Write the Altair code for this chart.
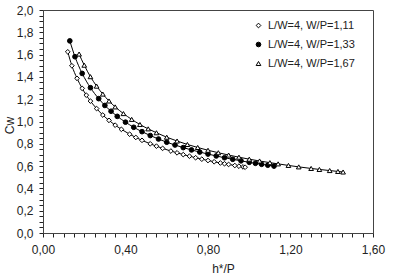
import altair as alt
import pandas as pd

series_names = ["L/W=4, W/P=1,11", "L/W=4, W/P=1,33", "L/W=4, W/P=1,67"]

x1 = [0.12, 0.14, 0.165, 0.19, 0.21, 0.23, 0.26, 0.29, 0.32, 0.35, 0.38, 0.42, 0.45, 0.48,
      0.52, 0.55, 0.58, 0.62, 0.65, 0.68, 0.71, 0.74, 0.77, 0.80, 0.83, 0.86, 0.88, 0.90,
      0.93, 0.95, 0.97, 0.98]
y1 = [1.625, 1.50, 1.387, 1.297, 1.236, 1.183, 1.116, 1.058, 1.010, 0.967, 0.930, 0.886, 0.857,
      0.831, 0.800, 0.779, 0.759, 0.735, 0.719, 0.703, 0.689, 0.675, 0.662, 0.650, 0.639,
      0.628, 0.621, 0.615, 0.605, 0.599, 0.593, 0.590]

x2 = [0.13, 0.155, 0.19, 0.23, 0.27, 0.30, 0.33, 0.36, 0.40, 0.44, 0.48, 0.52, 0.56, 0.60,
      0.64, 0.68, 0.72, 0.76, 0.80, 0.84, 0.88, 0.92, 0.96, 1.00, 1.03, 1.06, 1.09, 1.12]
y2 = [1.723, 1.581, 1.431, 1.303, 1.205, 1.144, 1.092, 1.046, 0.994, 0.948, 0.909, 0.874,
      0.843, 0.814, 0.789, 0.766, 0.745, 0.726, 0.708, 0.691, 0.675, 0.661, 0.647, 0.634,
      0.625, 0.616, 0.608, 0.600]

x3 = [0.175, 0.20, 0.23, 0.26, 0.29, 0.32, 0.35, 0.39, 0.43, 0.47, 0.51, 0.55, 0.60, 0.65,
      0.70, 0.75, 0.80, 0.85, 0.90, 0.95, 1.00, 1.05, 1.10, 1.14, 1.19, 1.24, 1.30, 1.34,
      1.39, 1.43, 1.455]
y3 = [1.605, 1.505, 1.402, 1.317, 1.246, 1.184, 1.131, 1.071, 1.019, 0.973, 0.934, 0.899,
      0.859, 0.825, 0.794, 0.767, 0.742, 0.720, 0.699, 0.680, 0.662, 0.646, 0.631, 0.620,
      0.606, 0.593, 0.579, 0.570, 0.560, 0.552, 0.547]

rows = []
for name, xs, ys in zip(series_names, [x1, x2, x3], [y1, y2, y3]):
    for xv, yv in zip(xs, ys):
        rows.append({"series": name, "x": xv, "y": yv})
df = pd.DataFrame(rows)

x_ticks = [round(i * 0.05, 2) for i in range(0, 33)]
y_ticks = [round(i * 0.05, 2) for i in range(0, 41)]

font = "Liberation Sans"

x_axis = alt.Axis(values=x_ticks, grid=False, title="h*/P", labelOverlap=False, ticks=True,
                  labelFlush=False,
                  labelExpr="abs(datum.value*2.5 - round(datum.value*2.5)) < 0.001 ? replace(format(datum.value, '.2f'), '.', ',') : ''",
                  tickSize=4, tickWidth=1, tickColor="#222", labelPadding=7, labelFontSize=12,
                  titleX=180, titleY=35, titleBaseline="middle",
                  titleFontWeight="normal", titleFontSize=12)
y_axis = alt.Axis(values=y_ticks, grid=False, title="Cw", labelOverlap=False, ticks=True,
                  labelFlush=False,
                  labelExpr="abs(datum.value*5 - round(datum.value*5)) < 0.001 ? replace(format(datum.value, '.1f'), '.', ',') : ''",
                  tickSize=4, tickWidth=1, tickColor="#222", labelPadding=6, labelFontSize=12,
                  titleX=-34, titleY=115, titleBaseline="middle",
                  titleFontWeight="normal", titleFontSize=12)

x_enc = alt.X("x:Q", scale=alt.Scale(domain=[0, 1.6], nice=False), axis=x_axis)
y_enc = alt.Y("y:Q", scale=alt.Scale(domain=[0, 2.0], nice=False), axis=y_axis)

lines = alt.Chart(df).mark_line(color="black", strokeWidth=1, interpolate="monotone").encode(
    x=x_enc, y=y_enc, detail="series:N"
)

legend = alt.Legend(title=None, orient="none", legendX=210, legendY=10,
                    labelFont=font, labelFontSize=11, labelColor="#222",
                    symbolSize=22, rowPadding=7, symbolStrokeWidth=1)

points = alt.Chart(df).mark_point(strokeWidth=1, opacity=1, size=22).encode(
    x=x_enc, y=y_enc,
    shape=alt.Shape("series:N", scale=alt.Scale(domain=series_names, range=["diamond", "circle", "triangle-up"]),
                    legend=legend),
    fill=alt.Fill("series:N", scale=alt.Scale(domain=series_names, range=["white", "black", "white"]),
                  legend=legend),
    stroke=alt.Stroke("series:N", scale=alt.Scale(domain=series_names, range=["black", "black", "black"]),
                      legend=legend),
)

chart = alt.layer(lines, points).properties(
    width=330, height=223,
    autosize=alt.AutoSizeParams(type="none"),
    padding={"left": 43, "top": 10, "right": 29, "bottom": 43},
    background="white",
).configure_view(stroke="#444", strokeWidth=1).configure_axis(
    labelFont=font, titleFont=font, labelColor="#222", titleColor="#222",
    domainColor="#444"
)

chart.save("out.html", embed_options={"renderer": "svg", "actions": False})
